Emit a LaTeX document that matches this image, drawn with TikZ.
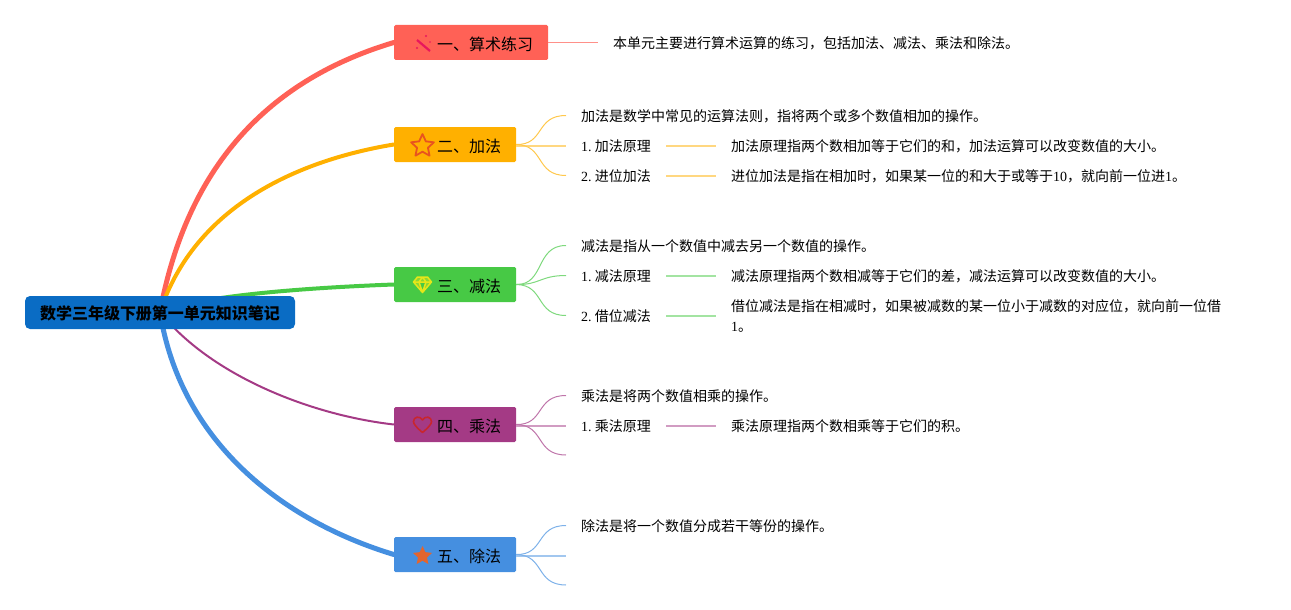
\documentclass[tikz,border=0pt]{standalone}
\usepackage{fontspec}
\setmainfont{Liberation Serif}
\newfontfamily\cjk{Noto Sans CJK SC}
\newcommand{\zh}[1]{{\cjk #1}}
\usetikzlibrary{backgrounds,shapes.geometric}
\definecolor{rootblue}{HTML}{0A6CC4}
\definecolor{redb}{HTML}{FF6156}
\definecolor{orangeb}{HTML}{FFB000}
\definecolor{greenb}{HTML}{47C945}
\definecolor{purpleb}{HTML}{A43A85}
\definecolor{blueb}{HTML}{458FE0}
\definecolor{wandred}{HTML}{E8175D}
\definecolor{staredge}{HTML}{E8531F}
\definecolor{gemyellow}{HTML}{E6E619}
\definecolor{heartred}{HTML}{C8262E}
\definecolor{starfill}{HTML}{E2652F}
\tikzset{
  rootbox/.style={fill=rootblue, rounded corners=5pt, minimum width=270pt, minimum height=33pt, inner sep=0pt, text height=15.5pt, text depth=2pt, font=\fontsize{16}{20}\selectfont\cjk\bfseries},
  branchbox/.style={fill=#1, rounded corners=1.5pt, minimum height=35pt, inner sep=0pt, text height=17.5pt, text depth=2pt, font=\fontsize{16}{20}\selectfont, execute at begin node=\hspace*{28pt}},
  leafwrap/.style={inner xsep=15pt, inner ysep=0pt, anchor=west, font=\fontsize{14}{20}\selectfont, align=left},
  leaf/.style={leafwrap, text height=14pt, text depth=2pt},
  mainline/.style={draw=#1, line cap=round},
  subline/.style={draw=#1!70, line width=1pt},
  straightline/.style={draw=#1!50, line width=2pt},
  icostar/.style={star, star points=5, star point ratio=2.1, inner sep=0pt, minimum size=#1},
}
\begin{document}
\begin{tikzpicture}[x=1pt, y=-1pt]
  \useasboundingbox (0,0) rectangle (1291,610);
  \coordinate (hub) at (160,312);
  \node[rootbox] (root) at (160,312.5) {数学三年级下册第一单元知识笔记};

  \node[branchbox=redb, minimum width=154pt] (add0) at (471,42.5) {\zh{一、算术练习}};
  \node[branchbox=orangeb, minimum width=122pt] (add) at (455,144.5) {\zh{二、加法}};
  \node[branchbox=greenb, minimum width=122pt] (sub) at (455,284.5) {\zh{三、减法}};
  \node[branchbox=purpleb, minimum width=122pt] (mul) at (455,424.5) {\zh{四、乘法}};
  \node[branchbox=blueb, minimum width=122pt] (div) at (455,554.5) {\zh{五、除法}};

  % leaves
  \node[leaf] (t0) at (598,42.5) {\zh{本单元主要进行算术运算的练习，包括加法、减法、乘法和除法。}};
  \node[leaf] (a0) at (566,115.5) {\zh{加法是数学中常见的运算法则，指将两个或多个数值相加的操作。}};
  \node[leaf] (a1) at (566,145.5) {1.\hspace{3.2pt}\zh{加法原理}};
  \node[leaf] (a2) at (566,175.5) {2.\hspace{3.2pt}\zh{进位加法}};
  \node[leaf] (a1t) at (716,145.5) {\zh{加法原理指两个数相加等于它们的和，加法运算可以改变数值的大小。}};
  \node[leaf] (a2t) at (716,175.5) {\zh{进位加法是指在相加时，如果某一位的和大于或等于}10\zh{，就向前一位进}1\zh{。}};
  \node[leaf] (s0) at (566,245.5) {\zh{减法是指从一个数值中减去另一个数值的操作。}};
  \node[leaf] (s1) at (566,275.5) {1.\hspace{3.2pt}\zh{减法原理}};
  \node[leaf] (s2) at (566,315.5) {2.\hspace{3.2pt}\zh{借位减法}};
  \node[leaf] (s1t) at (716,275.5) {\zh{减法原理指两个数相减等于它们的差，减法运算可以改变数值的大小。}};
  \node[leafwrap] (s2t) at (716,315.5) {\zh{借位减法是指在相减时，如果被减数的某一位小于减数的对应位，就向前一位借}\\1\zh{。}};
  \node[leaf] (m0) at (566,395.5) {\zh{乘法是将两个数值相乘的操作。}};
  \node[leaf] (m1) at (566,425.5) {1.\hspace{3.2pt}\zh{乘法原理}};
  \node[leaf] (m1t) at (716,425.5) {\zh{乘法原理指两个数相乘等于它们的积。}};
  \coordinate (m2) at (566,455);
  \node[leaf] (d0) at (566,525.5) {\zh{除法是将一个数值分成若干等份的操作。}};
  \coordinate (d1) at (566,555.5);
  \coordinate (d2) at (566,585);

  \begin{pgfonlayer}{background}
    \draw[mainline=redb, line width=5pt] (hub) .. controls (190,150) and (285,75) .. (add0.west);
    \draw[mainline=orangeb, line width=4pt] (hub) .. controls (195,205) and (300,160) .. (add.west);
    \draw[mainline=greenb, line width=4pt] (hub) .. controls (200,296) and (300,288) .. (sub.west);
    \draw[mainline=purpleb, line width=2pt] (hub) .. controls (210,375) and (310,415) .. (mul.west);
    \draw[mainline=blueb, line width=5pt] (hub) .. controls (180,440) and (280,520) .. (div.west);
  \end{pgfonlayer}

  \draw[subline=redb] (add0.east) -- (t0.west);
  \draw[subline=orangeb] (add.east) .. controls (545,145) and (535,115.5) .. (a0.west);
  \draw[straightline=orangeb] (add.east |- a1.west) -- (a1.west);
  \draw[subline=orangeb] (add.east) .. controls (545,145) and (535,175.5) .. (a2.west);
  \draw[straightline=orangeb] (a1.east) -- (a1t.west);
  \draw[straightline=orangeb] (a2.east) -- (a2t.west);
  \draw[subline=greenb] (sub.east) .. controls (545,285) and (535,245.5) .. (s0.west);
  \draw[subline=greenb] (sub.east) .. controls (540,285) and (540,275.5) .. (s1.west);
  \draw[subline=greenb] (sub.east) .. controls (545,285) and (535,315.5) .. (s2.west);
  \draw[straightline=greenb] (s1.east) -- (s1t.west);
  \draw[straightline=greenb] (s2.east) -- (s2t.west);
  \draw[subline=purpleb] (mul.east) .. controls (545,425) and (535,395.5) .. (m0.west);
  \draw[straightline=purpleb] (mul.east |- m1.west) -- (m1.west);
  \draw[subline=purpleb] (mul.east) .. controls (545,425) and (535,455) .. (m2);
  \draw[straightline=purpleb] (m1.east) -- (m1t.west);
  \draw[subline=blueb] (div.east) .. controls (545,555) and (535,525.5) .. (d0.west);
  \draw[straightline=blueb] (div.east |- d1) -- (d1);
  \draw[subline=blueb] (div.east) .. controls (545,555) and (535,585) .. (d2);

  % icons
  \draw[wandred, line width=2.2pt] (417,40) -- (430,51);
  \fill[wandred] (426,36) circle (1.2pt) (417,48) circle (1.2pt) (430,42) circle (0.9pt);
  \node[icostar=24pt, draw=staredge, line width=1.8pt, line join=round] (ico2) at (422.5,146) {};
  \draw[gemyellow, fill=gemyellow!45!greenb, line width=1.5pt, line join=round] (413.5,282) -- (417.5,277) -- (427.5,277) -- (431.5,282) -- (422.5,292.5) -- cycle (413.5,282) -- (431.5,282) (419,282) -- (422.5,292.5) -- (426,282) (419,282) -- (422.5,277) -- (426,282);
  \draw[heartred, line width=1.6pt, line join=round] (422.5,432.5) .. controls (416,427) and (413.5,424) .. (413.5,421.5) .. controls (413.5,416.5) and (420,415.5) .. (422.5,420) .. controls (425,415.5) and (431.5,416.5) .. (431.5,421.5) .. controls (431.5,424) and (429,427) .. (422.5,432.5) -- cycle;
  \node[icostar=20pt, fill=starfill] (ico5) at (422.5,556) {};
\end{tikzpicture}
\end{document}
